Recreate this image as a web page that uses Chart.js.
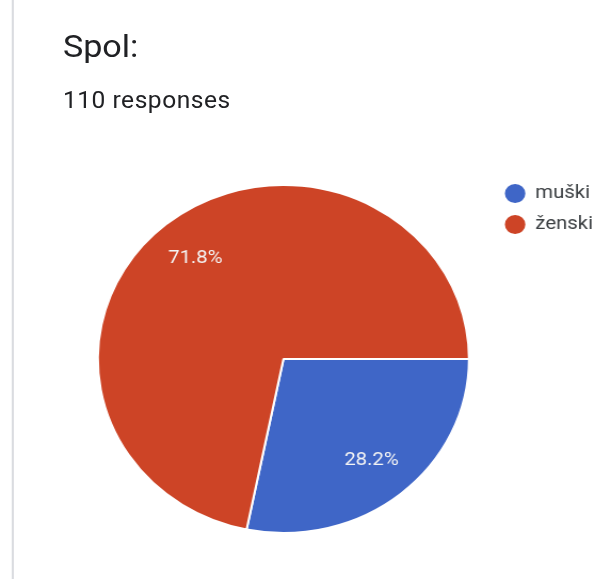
<!DOCTYPE html>
<html>
<head>
<meta charset="utf-8">
<script src="https://cdn.jsdelivr.net/npm/chart.js@4/dist/chart.umd.min.js"></script>
<style>
    html, body {
        margin: 0;
        padding: 0;
        background: #fff;
        overflow: hidden;
    }
    #page {
        position: relative;
        width: 558px;
        height: 579px;
        transform: scaleX(1.0663);
        transform-origin: 0 0;
        font-family: Roboto, "Noto Sans", sans-serif;
    }
    .edge {
        position: absolute;
        left: 10.5px;
        top: 0;
        width: 2px;
        height: 579px;
        background: #dadce0;
    }
    .title {
        position: absolute;
        left: 59px;
        top: 30px;
        font-size: 32px;
        line-height: 32px;
        color: #202124;
    }
    .count {
        position: absolute;
        left: 59px;
        top: 89px;
        font-size: 23px;
        line-height: 23px;
        letter-spacing: 0.5px;
        color: #202124;
    }
    .chart-wrapper {
        position: absolute;
        left: 0;
        top: 0;
        width: 566px;
        height: 579px;
    }
</style>
</head>
<body>
<div id="page">
    <div class="edge"></div>
    <div class="title">Spol:</div>
    <div class="count">110 responses</div>
    <div class="chart-wrapper">
        <canvas id="canvas-spol"></canvas>
    </div>
</div>
<script>
const labels = ['muški', 'ženski'];
const counts = [31, 79];
const colors = ['#3f66c7', '#cd4426'];

// percentage labels inside the slices, like Google Forms
const sliceLabels = {
    id: 'sliceLabels',
    afterDatasetsDraw(chart) {
        const { ctx } = chart;
        const meta = chart.getDatasetMeta(0);
        const total = counts.reduce((a, b) => a + b, 0);
        ctx.save();
        ctx.font = '19px Roboto, sans-serif';
        ctx.fillStyle = '#f4f4f4';
        ctx.textAlign = 'center';
        ctx.textBaseline = 'middle';
        meta.data.forEach((arc, i) => {
            const p = arc.getProps(['x', 'y', 'startAngle', 'endAngle', 'outerRadius'], true);
            const mid = (p.startAngle + p.endAngle) / 2;
            const r = p.outerRadius * 0.75;
            const text = (counts[i] / total * 100).toFixed(1) + '%';
            ctx.fillText(text, p.x + Math.cos(mid) * r, p.y + Math.sin(mid) * r);
        });
        ctx.restore();
    }
};

const ctx = document.getElementById('canvas-spol').getContext('2d');
new Chart(ctx, {
    type: 'pie',
    data: {
        labels: labels,
        datasets: [{
            data: counts,
            backgroundColor: colors,
            borderColor: '#ffffff',
            borderWidth: 2,
            radius: 174,
        }]
    },
    options: {
        responsive: true,
        maintainAspectRatio: false,
        animation: false,
        rotation: 90,
        layout: {
            padding: { top: 172, bottom: 33, left: 70, right: 0 }
        },
        plugins: {
            legend: {
                position: 'right',
                align: 'start',
                labels: {
                    usePointStyle: true,
                    pointStyle: 'circle',
                    boxHeight: 15,
                    boxWidth: 19,
                    padding: 12,
                    color: '#3c4043',
                    font: { family: 'Roboto', size: 19 }
                }
            },
            tooltip: { enabled: false }
        }
    },
    plugins: [sliceLabels]
});
</script>
</body>
</html>
